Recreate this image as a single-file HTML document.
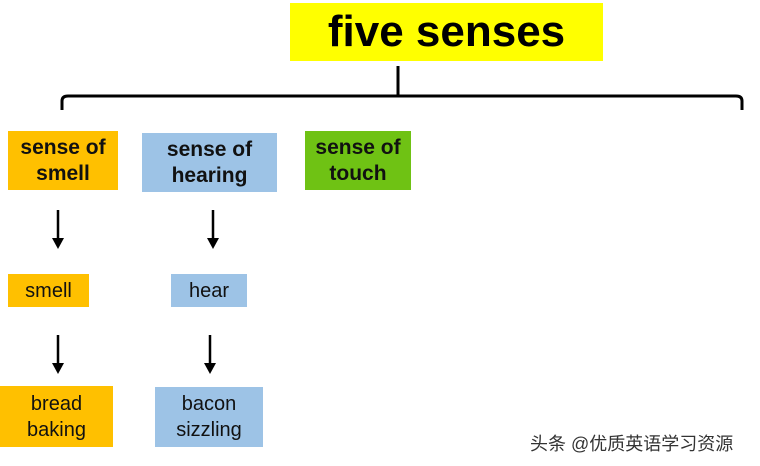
<!DOCTYPE html>
<html><head><style>
body{margin:0;width:760px;height:466px;background:#fff;position:relative;overflow:hidden;font-family:"Liberation Sans",sans-serif}
.b{position:absolute;display:flex;align-items:center;justify-content:center;text-align:center;line-height:26px}
.s{font-weight:bold;font-size:21px;color:#111}
.n{font-size:20px;color:#111}
</style></head><body>
<div class="b" style="left:290px;top:3px;width:313px;height:58px;background:#ffff00;font-weight:bold;font-size:44px;color:#000">five senses</div>
<svg style="position:absolute;left:0;top:0" width="760" height="466">
<g stroke="#000" stroke-width="3" fill="none">
<path d="M398 66 V95"/>
<path d="M62 110 V101 Q62 96 68 96 H736 Q742 96 742 101 V110"/>
<path d="M58 210 V240 M213 210 V240 M58 335 V365 M210 335 V365" stroke-width="2.5"/>
</g>
<g fill="#000">
<path d="M52 238 L64 238 L58 249 Z"/><path d="M207 238 L219 238 L213 249 Z"/>
<path d="M52 363 L64 363 L58 374 Z"/><path d="M204 363 L216 363 L210 374 Z"/>
</g>
</svg>
<div class="b s" style="left:8px;top:131px;width:110px;height:59px;background:#ffc000">sense of<br>smell</div>
<div class="b s" style="left:142px;top:133px;width:135px;height:59px;background:#9dc3e6">sense of<br>hearing</div>
<div class="b s" style="left:305px;top:131px;width:106px;height:59px;background:#6fc214">sense of<br>touch</div>
<div class="b n" style="left:8px;top:274px;width:81px;height:33px;background:#ffc000">smell</div>
<div class="b n" style="left:171px;top:274px;width:76px;height:33px;background:#9dc3e6">hear</div>
<div class="b n" style="left:0px;top:386px;width:113px;height:61px;background:#ffc000">bread<br>baking</div>
<div class="b n" style="left:155px;top:387px;width:108px;height:60px;background:#9dc3e6">bacon<br>sizzling</div>
<div style="position:absolute;left:530px;top:430px;font-size:18px;color:#333;font-family:'Liberation Sans','Noto Sans CJK SC',sans-serif">头条 @优质英语学习资源</div>
</body></html>
